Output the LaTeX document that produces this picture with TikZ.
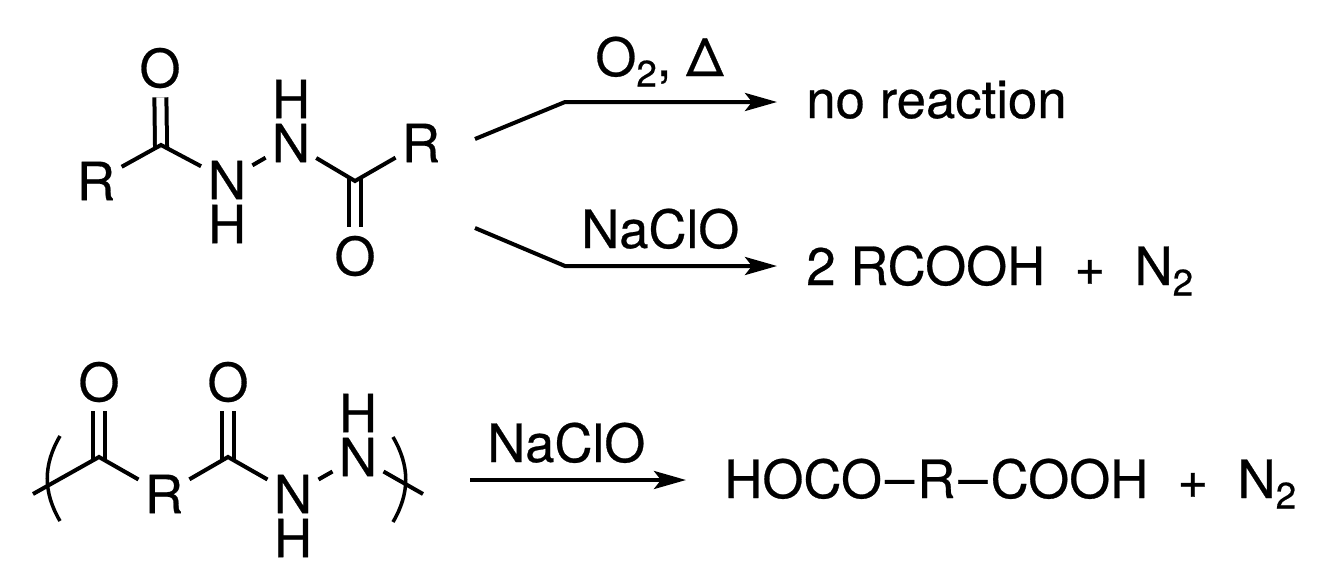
\documentclass[tikz,border=0pt]{standalone}
\usepackage{fontspec}
\setmainfont[FakeBold=0.5]{TeX Gyre Heros}
\usetikzlibrary{arrows.meta}
\newcommand{\subtwo}{\raisebox{-0.2em}{\fontsize{21}{21}\selectfont 2}}
\newcommand{\atom}[3]{\node[atom] (#1) at (#2) {#3};}
\newcommand{\carbonyl}[3]{\coordinate (#1) at (#2); \atom{#1o}{#3}{O} \draw[dblbond] (#1) -- (#1o);}
\newcommand{\rxntext}[3]{\node[chemtext] (#1) at (#2) {#3};}
\newcommand{\linkdash}{\kern0.06cm\raisebox{0.03cm}{--}\kern0.06cm}
\tikzset{
    every node/.style={font=\fontsize{30}{36}\selectfont},
    atom/.style={circle, inner sep=0pt, minimum size=1.16cm},
    chemtext/.style={anchor=base west, inner sep=0pt},
    bond/.style={line width=0.08cm},
    dblbond/.style={line width=0.08cm, double, double distance=0.16cm, shorten <=-0.06cm},
    rxnarrow/.style={line width=0.08cm, -{Stealth[length=0.64cm,width=0.36cm,inset=0.14cm]}},
    paren/.style={line width=0.07cm}
}
\begin{document}
\begin{tikzpicture}[x=0.02cm,y=-0.02cm]
    \useasboundingbox (0,0) rectangle (1322,585);

    \carbonyl{c1}{161,145}{160,68}
    \carbonyl{c2}{355,181}{355,256}
    \atom{r1}{96,181}{R}
    \atom{r2}{421,143}{R}
    \atom{n1}{227,180}{N}
    \atom{n2}{291,143}{N}
    \node[chemtext, anchor=center] (h1) at (227,224) {H};
    \node[chemtext, anchor=center] (h2) at (291,99) {H};
    \draw[bond] (r1) -- (c1) -- (n1) -- (n2) -- (c2) -- (r2);

    \carbonyl{c3}{99,457}{99,382}
    \carbonyl{c4}{228,457}{228,382}
    \atom{r3}{164,494}{R}
    \atom{n3}{293,494}{N}
    \atom{n4}{358,457}{N}
    \node[chemtext, anchor=center] (h3) at (293,538) {H};
    \node[chemtext, anchor=center] (h4) at (358,413) {H};
    \coordinate (e1) at (33,494);
    \coordinate (e2) at (423,494);
    \draw[bond] (e1) -- (c3) -- (r3) -- (c4) -- (n3) -- (n4) -- (e2);
    \coordinate (pl1) at (60,436);
    \coordinate (pl2) at (60,521);
    \coordinate (pr1) at (393,437);
    \coordinate (pr2) at (393,522);
    \draw[paren] (pl1) .. controls (43,465) and (43,492) .. (pl2);
    \draw[paren] (pr1) .. controls (410,466) and (410,493) .. (pr2);

    \coordinate (a1) at (475,139);
    \coordinate (a2) at (565,102);
    \coordinate (a3) at (777,102);
    \coordinate (b1) at (475,228);
    \coordinate (b2) at (565,266);
    \coordinate (b3) at (777,266);
    \coordinate (d1) at (470,480);
    \coordinate (d2) at (686,480);
    \draw[rxnarrow] (a1) -- (a2) -- (a3);
    \draw[rxnarrow] (b1) -- (b2) -- (b3);
    \draw[rxnarrow] (d1) -- (d2);

    \rxntext{cond1}{595,76}{O\subtwo, Δ}
    \rxntext{cond2}{581,248}{NaClO}
    \rxntext{cond3}{487,462}{NaClO}
    \rxntext{prod1}{806,118}{no reaction}
    \rxntext{prod2}{806,285}{2 RCOOH\ \ +\ \ N\subtwo}
    \rxntext{prod3}{724,498}{HOCO\linkdash R\linkdash COOH\ \ +\ \ N\subtwo}
\end{tikzpicture}
\end{document}
